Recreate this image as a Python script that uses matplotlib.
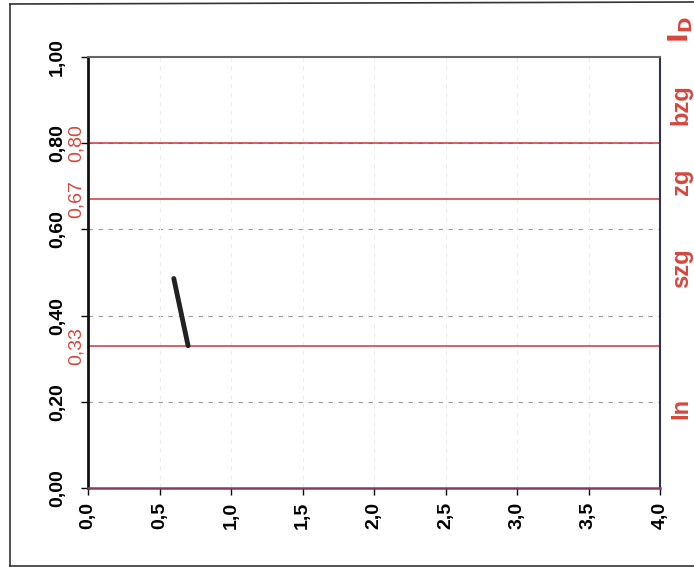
import matplotlib
matplotlib.use("Agg")
import matplotlib.pyplot as plt
from matplotlib.lines import Line2D

plt.rcParams['font.family'] = ['Liberation Sans', 'DejaVu Sans']

# dane
x_ticks = [0.0, 0.5, 1.0, 1.5, 2.0, 2.5, 3.0, 3.5, 4.0]
y_ticks = [0.0, 0.2, 0.4, 0.6, 0.8, 1.0]
granice = [0.33, 0.67, 0.80]              # granice stanow (czerwone linie)
granice_txt = ['0,33', '0,67', '0,80']
strefy = ['In', 'szg', 'zg', 'bzg']
strefy_y = [0.185, 0.51, 0.71, 0.89]
pomiar_x = [0.60, 0.70]                  # odcinek pomiarowy
pomiar_y = [0.486, 0.33]

CZERWONY = '#d8463c'
LINIA_CZ = '#c9373c'

fig = plt.figure(figsize=(6.94, 5.74), dpi=100)
ax = fig.add_axes([88 / 694, 86 / 574, 572 / 694, 431 / 574])

ax.set_xlim(0, 4)
ax.set_ylim(0, 1)

# siatka
for y in y_ticks[1:-1]:
    ax.axhline(y, color='#9a9a9a', lw=0.8, ls=(0, (4, 5)), zorder=1)
for x in x_ticks[1:-1]:
    ax.axvline(x, color='#ededed', lw=0.8, ls=(0, (4, 4)), zorder=1)

# granice stanow
for g in granice:
    ax.axhline(g, color=LINIA_CZ, lw=1.1, zorder=2)

ax.plot(pomiar_x, pomiar_y, color='#222222', lw=3.5, solid_capstyle='round', zorder=3)

ax.set_xticks(x_ticks)
ax.set_xticklabels([f'{v:.1f}'.replace('.', ',') for v in x_ticks],
                   rotation=90, fontsize=14, fontweight='bold')
ax.set_yticks(y_ticks)
ax.set_yticklabels([f'{v:.2f}'.replace('.', ',') for v in y_ticks],
                   rotation=90, va='center', fontsize=14, fontweight='bold')
ax.tick_params(axis='y', length=5, width=1, pad=11)
ax.tick_params(axis='x', length=5, width=1, pad=5)

for g, t in zip(granice, granice_txt):
    ax.text(-0.02, g, t, rotation=90, ha='center', va='center',
            fontsize=14, color=CZERWONY, transform=ax.get_yaxis_transform())

for s, y in zip(strefy, strefy_y):
    ax.text(1.037, y, s, rotation=90, ha='center', va='center',
            fontsize=17, color=CZERWONY, fontweight='bold',
            transform=ax.transAxes)
ax.text(1.037, 1.063, r'$\mathbf{I_D}$', rotation=90, ha='center', va='center',
        fontsize=19, color=CZERWONY, transform=ax.transAxes)

ax.spines['left'].set_linewidth(2.0)
ax.spines['left'].set_color('#111111')
ax.spines['top'].set_color('#666666')
ax.spines['top'].set_linewidth(1.5)
ax.spines['right'].set_color('#2f3350')
ax.spines['right'].set_linewidth(1.5)
ax.spines['bottom'].set_color('#8a3a60')
ax.spines['bottom'].set_linewidth(1.8)

# ramka skanu
fig.add_artist(Line2D([10 / 694, 10 / 694], [1 - 4 / 574, 1 - 566 / 574],
                      color='#333333', lw=1.2, transform=fig.transFigure))
fig.add_artist(Line2D([10 / 694, 1], [1 - 566 / 574, 1 - 566 / 574],
                      color='#333333', lw=1.2, transform=fig.transFigure))
fig.add_artist(Line2D([10 / 694, 1], [1 - 4 / 574, 1 - 2 / 574],
                      color='#333333', lw=1.2, transform=fig.transFigure))

fig.savefig('out.png', dpi=100)
